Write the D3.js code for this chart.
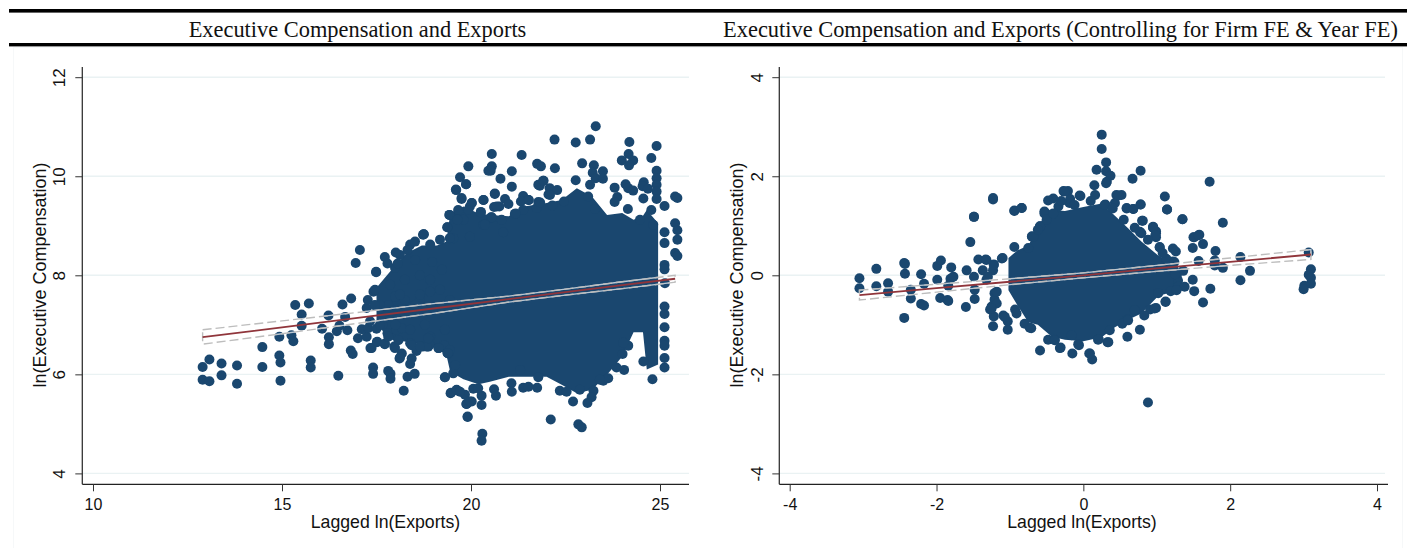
<!DOCTYPE html>
<html>
<head>
<meta charset="utf-8">
<script src="https://cdn.jsdelivr.net/npm/d3@7"></script>
<style>
  html, body { margin: 0; padding: 0; background: #fff; }
  svg { display: block; }
  .tick text, .axis-title { font-family: "Liberation Sans", Arial, sans-serif; fill: #111; }
  .head { font-family: "Liberation Serif", "Times New Roman", serif; font-size: 22.4px; fill: #111; }
</style>
</head>
<body>
<svg id="chart"></svg>
<script>
const width = 1407;
const height = 548;

const panel_titles = ["Executive Compensation and Exports", "Executive Compensation and Exports (Controlling for Firm FE & Year FE)"];
const x_title = "Lagged ln(Exports)";
const y_title = "ln(Executive Compensation)";

const left_x_ticks = [10, 15, 20, 25];
const left_y_ticks = [4, 6, 8, 10, 12];
const right_x_ticks = [-4, -2, 0, 2, 4];
const right_y_ticks = [-4, -2, 0, 2, 4];

// individually visible markers as [x, y]
const left_points = [
  [12.90,6.15],[13.08,6.30],[13.40,6.22],[13.81,6.18],[12.90,5.89],[13.08,5.86],[13.40,5.98],[13.81,5.81],[14.48,6.15],[14.48,6.55],
  [14.93,6.38],[14.96,6.24],[14.96,5.87],[14.93,6.76],[15.25,6.79],[15.30,6.67],[15.35,7.40],[15.71,7.43],[15.52,7.21],[15.52,6.98],
  [15.76,6.28],[15.76,6.14],[16.06,6.92],[16.23,7.19],[16.24,6.75],[16.24,6.61],[16.49,5.97],[16.45,6.87],[16.52,6.98],[16.67,7.16],
  [16.73,6.89],[16.60,7.41],[16.83,7.53],[16.82,6.48],[16.87,6.41],[17.01,6.73],[17.24,7.34],[17.46,7.39],[17.24,6.76],[17.11,6.91],
  [17.28,6.93],[17.50,6.92],[17.66,7.00],[17.34,6.53],[17.41,6.14],[17.41,6.01],[17.51,6.65],[17.72,6.62],[17.79,6.83],[17.81,6.07],
  [17.87,6.01],[17.87,5.91],[18.32,5.95],[18.51,6.01],[18.22,5.67],[18.11,6.32],[18.17,6.42],[17.97,6.56],[18.03,6.90],[18.17,6.93],
  [18.08,6.69],[18.39,6.63],[18.43,6.32],[18.39,6.21],[18.56,6.47],[18.72,6.56],[18.87,6.56],[18.92,6.76],[19.14,6.53],[19.31,5.94],
  [19.40,6.42],[19.46,5.62],[19.62,5.68],[19.88,5.40],[19.91,5.14],[19.53,6.02],[19.29,6.59],[17.68,7.37],[17.81,7.40],[17.99,7.57],
  [18.25,7.50],[18.65,7.50],[17.42,7.67],[18.92,7.67],[17.06,8.51],[16.95,8.25],[17.49,8.07],[17.99,8.15],[18.39,8.62],[18.73,8.82],
  [18.12,8.41],[17.72,8.37],[18.52,8.31],[18.92,8.62],[19.18,8.72],[18.97,8.27],[18.65,8.00],[18.25,7.91],[17.86,7.81],[17.46,7.71],
  [18.12,7.61],[18.65,7.61],[19.18,7.71],[19.23,8.11],[18.92,7.91],[18.52,7.40],[19.05,7.30],[19.44,7.50],[17.99,7.30],[17.59,7.40],
  [18.78,7.00],[19.31,6.90],[18.39,6.90],[18.00,7.00],[18.90,6.60],[19.44,6.49],[17.27,7.50],
  [23.30,11.01],[22.21,10.74],[22.77,10.68],[23.15,10.74],[24.19,10.69],[24.91,10.61],[20.55,10.45],[21.34,10.43],[24.17,10.45],[23.99,10.32],
  [24.29,10.32],[24.18,10.22],[24.77,10.37],[19.93,10.20],[20.55,10.20],[20.46,10.11],[20.52,10.11],[21.75,10.25],[21.85,10.20],[22.94,10.26],
  [23.25,10.22],[22.22,10.16],[23.22,10.07],[23.49,10.10],[21.08,10.10],[19.71,9.98],[20.78,9.95],[24.91,10.11],[24.91,9.96],[24.91,9.83],
  [24.91,9.69],[24.91,9.54],[23.30,9.96],[23.49,9.95],[22.77,9.92],[23.15,9.83],[19.87,9.84],[21.08,9.79],[21.92,9.91],[21.82,9.81],
  [22.08,9.76],[22.28,9.72],[22.05,9.63],[19.61,9.72],[20.63,9.65],[23.80,9.77],[24.09,9.84],[24.16,9.76],[24.29,9.71],[24.57,9.88],
  [24.54,9.80],[24.68,9.75],[24.56,9.55],[23.87,9.58],[23.80,9.48],[25.40,9.59],[25.46,9.56],[25.12,9.40],[24.15,9.34],[24.77,9.32],
  [19.75,9.56],[20.33,9.52],[20.90,9.54],[20.99,9.44],[20.02,9.46],[21.38,9.60],[21.52,9.52],[21.32,9.49],[21.78,9.48],[22.15,9.41],
  [22.46,9.49],[23.10,9.59],[23.28,9.34],[20.61,9.38],[20.75,9.39],[20.26,9.28],[19.43,9.22],[19.66,9.32],[19.97,9.39],[21.16,9.24],
  [21.38,9.32],[21.74,9.36],[20.53,9.17],[20.81,9.12],[19.80,9.12],[19.38,8.97],[19.53,8.75],[18.75,8.83],[20.85,8.87],[20.33,9.02],
  [25.40,9.05],[25.12,8.87],[25.46,8.91],[25.46,8.72],[25.12,8.65],[25.40,8.45],[25.46,8.39],[25.12,8.21],[25.12,8.12],[25.13,7.84],
  [24.47,9.12],[24.82,9.02],
  [25.12,7.37],[25.12,7.22],[25.12,6.95],[25.12,6.68],[25.12,6.58],[25.12,6.33],[25.12,6.14],[24.80,5.90],[24.56,6.26],[24.05,6.09],
  [23.85,6.14],[24.01,6.41],[24.16,6.58],[24.03,6.64],[23.50,5.87],[23.63,5.92],[23.24,5.67],[23.19,5.54],[23.08,5.42],[22.70,5.45],
  [22.35,5.67],[22.11,5.09],[22.84,4.99],[22.93,4.93],[21.75,5.73],[21.38,5.73],[21.52,5.75],[21.07,5.82],[21.08,5.65],[20.61,5.70],
  [20.66,5.57],[20.28,5.38],[20.28,5.57],[20.06,5.71],[19.88,5.40],[20.02,5.45],[19.91,5.15],[20.30,4.80],[20.28,4.66],[19.47,5.63],
  [19.31,5.94],[19.84,5.59],[19.14,6.53],[18.83,6.56],[19.38,6.43],[18.87,6.73],[19.62,5.69],[21.30,6.09],[21.78,5.94],[22.88,5.69],
  [22.53,5.65],[23.41,5.89],
  [17.49,8.06],[17.79,8.24],[18.01,8.46],[18.06,8.24],[18.52,8.68],[18.75,8.83],[18.32,8.51],[19.37,8.97],[19.43,9.22],[19.87,9.84],
  [19.60,9.73],[19.75,9.54],[20.02,9.46],[20.33,9.52],[20.63,9.64],[20.68,9.39],[20.26,9.27],[19.93,9.32],[19.64,9.12],[19.44,8.75],
  [20.55,9.17],[20.37,9.02],[19.97,8.78],[21.18,9.25],[21.53,9.52],[21.83,9.47],[21.78,9.83],[21.91,9.91],[22.09,9.62],
  [17.37,6.53],[17.52,6.66],[17.72,6.61],[17.99,6.53],[18.12,6.34],[18.43,6.59],[18.65,6.56],[19.38,6.43],[17.81,6.76],[17.46,7.40],
  [17.33,7.07],[17.59,7.00],[19.58,6.19],[19.71,5.65],[19.97,5.45],[20.19,5.72]
];

const right_points = [
  [-3.05,-0.06],[-3.05,-0.26],[-2.82,0.13],[-2.82,-0.22],[-2.66,-0.16],[-2.66,-0.33],[-2.44,0.25],[-2.43,0.23],[-2.43,0.03],[-2.44,-0.86],
  [-2.35,-0.29],[-2.35,-0.47],[-2.21,0.02],[-2.17,-0.17],[-2.21,-0.58],[-2.17,-0.61],[-1.99,-0.09],[-1.99,0.19],[-1.94,0.30],[-1.95,-0.46],
  [-1.84,-0.21],[-1.85,-0.50],[-1.84,-0.52],[-1.80,0.16],[-1.81,-0.07],[-1.77,-0.03],[-1.60,-0.64],[-1.54,0.67],[-1.49,1.18],[-1.59,0.10],
  [-1.49,-0.03],[-1.48,-0.29],[-1.48,-0.48],[-1.43,0.32],[-1.33,0.32],[-1.37,0.10],[-1.32,-0.09],[-1.22,0.22],[-1.23,0.10],[-1.10,0.35],
  [-1.21,-0.36],[-1.21,-0.49],[-1.25,-0.63],[-1.27,-0.69],[-1.22,-0.83],[-1.23,-1.03],[-1.09,-0.81],[-1.03,-0.93],[-1.03,-1.10],[-0.93,-0.69],
  [-0.80,-0.98],[-0.73,-1.06],[-0.59,-1.52],[-0.94,1.31],[-0.84,1.36],[-1.23,1.53],[-0.94,0.57],[-0.75,0.55],[-0.70,0.78],[-0.59,0.99],
  [-0.50,1.23],[-0.48,-1.30],
  [3.07,0.46],[3.10,0.12],[3.07,0.01],[3.10,-0.05],[3.10,-0.17],[3.01,-0.21],[3.00,-0.28],[1.90,1.06],[1.35,1.13],[1.14,1.33],
  [0.78,1.43],[0.59,1.36],[0.68,1.34],[-0.19,1.46],[1.51,0.77],[1.58,0.82],[1.63,0.63],[1.49,0.55],[1.80,0.49],[2.14,0.37],
  [1.57,0.29],[1.79,0.30],[1.79,0.20],[1.90,0.15],[2.27,0.09],[2.14,-0.10],[1.49,-0.09],[1.73,-0.27],[1.51,-0.32],[1.63,-0.55],
  [1.12,-0.53],[1.22,0.54],[1.26,0.48],[0.95,0.98],[0.99,0.89],[0.99,0.77],[0.80,1.10],[0.77,0.88],[1.04,0.57],[1.13,0.33],
  [1.22,0.28],[1.36,0.09],[1.29,-0.11],[1.29,-0.23],[1.19,-0.32],[1.02,-0.36],[0.99,-0.66],[0.91,-0.69],[0.83,-0.81],[0.60,-0.90],
  [0.53,-0.98],[0.36,-1.11],[0.77,-1.10],[0.60,-1.24],[0.33,-1.35],[0.21,-1.29],[-0.07,-1.39],[-0.15,-1.58],[0.08,-1.58],[0.12,-1.70],
  [-0.32,-1.47],[-0.39,-1.30],[-0.16,-1.21],
  [0.25,2.84],[0.25,2.55],[0.31,2.28],[0.18,2.13],[0.31,2.10],[0.37,2.01],[0.78,2.11],[0.67,1.95],[1.72,1.89],[0.32,1.89],
  [0.15,1.82],[-1.23,1.56],[-1.49,1.18],[-0.94,1.30],[-0.84,1.36],[-0.27,1.70],[-0.21,1.70],[-0.18,1.54],[-0.41,1.55],[-0.48,1.51],
  [1.11,1.59],[1.14,1.33],[1.35,1.13],[-0.05,1.61],[0.45,1.62],[0.52,1.62],[0.78,1.43],[0.59,1.35],[0.68,1.34],[0.43,1.46],
  [0.30,1.43],[-0.34,1.39],[-0.53,1.29],[-0.59,0.99],[-0.70,0.79],[0.81,1.10],[0.95,0.97],[0.99,0.85],[1.50,0.77],[1.57,0.81],
  [0.88,-2.57],
  [-0.26,1.69],[-0.04,1.60],[-0.53,1.25],[-0.50,1.12],[-0.68,0.78],[-1.11,0.34],[-1.22,0.21],[-1.32,0.31],[-1.30,-0.03],[-1.18,-0.33],
  [-1.18,-0.57],[-1.25,-0.67],[-1.07,-0.84],[-0.91,-0.77],[-0.71,-1.07],[-0.39,-1.31],[-0.31,-1.46],[-0.06,-1.41],[-0.41,1.25],
  [0.48,1.61],[0.29,1.42],[0.79,0.85],[0.95,0.96],[0.98,0.81],[1.04,0.56],[1.13,0.33],[1.24,0.27],[1.38,-0.23],[1.27,-0.30],
  [1.12,-0.54],[0.97,-0.67],[0.70,-0.70],[0.61,-0.91],[0.34,-1.35],[0.20,-1.30],[0.09,-1.58],[0.31,1.86],
  [0.40,1.35],[0.55,1.12],[0.70,0.96],[0.88,0.72],[1.08,0.45],[-0.30,1.50],[-0.12,1.42],[0.10,1.50],[0.16,1.62],[-0.62,0.92],
  [1.20,0.12],[1.25,0.02]
];

// the overplotted middle of each cloud is solid, so it is kept as an outline: x, top, bottom
const left_core_x = [17.5, 17.9, 18.3, 18.7, 19.1, 19.35, 19.45, 19.8, 20.2, 20.5, 21.0, 21.4, 22.0, 22.4, 22.8, 23.2, 23.6, 24.0, 24.3, 24.55, 24.65, 24.95];
const left_core_hi = [7.75, 8.11, 8.45, 8.6, 8.6, 8.68, 9.25, 9.39, 9.25, 9.22, 9.19, 9.39, 9.46, 9.52, 9.76, 9.59, 9.22, 9.26, 9.12, 9.2, 9.32, 9.05];
const left_core_lo = [7.0, 6.7, 6.66, 6.6, 6.52, 6.39, 6.05, 5.9, 5.8, 5.85, 5.95, 5.95, 5.95, 5.79, 5.62, 5.69, 5.99, 6.36, 6.85, 6.85, 6.1, 6.2];

const right_core_x = [-1.02, -0.9, -0.75, -0.62, -0.5, -0.43, -0.25, 0.0, 0.25, 0.43, 0.61, 0.79, 1.02, 1.29, 1.34];
const right_core_hi = [0.35, 0.5, 0.6, 0.95, 1.3, 1.32, 1.3, 1.38, 1.45, 1.2, 0.95, 0.68, 0.4, 0.17, 0.0];
const right_core_lo = [-0.3, -0.6, -0.95, -1.0, -1.15, -1.24, -1.3, -1.33, -1.25, -1.05, -0.9, -0.77, -0.42, -0.3, -0.16];

// fitted line and its confidence band
const left_fit_x = [12.9, 15, 17, 19, 21, 22.5, 24, 25.4];
const left_fit_y = [6.75, 6.95, 7.14, 7.33, 7.52, 7.66, 7.8, 7.93];
const left_fit_hi = [6.9, 7.08, 7.25, 7.43, 7.58, 7.72, 7.87, 8.0];
const left_fit_lo = [6.61, 6.82, 7.03, 7.23, 7.46, 7.6, 7.73, 7.86];

const right_fit_x = [-3.05, -2, -1, 0, 1, 2, 3.1];
const right_fit_y = [-0.4, -0.26, -0.13, 0.0, 0.14, 0.27, 0.42];
const right_fit_hi = [-0.3, -0.18, -0.07, 0.05, 0.2, 0.35, 0.52];
const right_fit_lo = [-0.5, -0.34, -0.19, -0.05, 0.08, 0.2, 0.32];

const navy = "#1a476f";
const red = "#90353b";
const grid_color = "#eaf2f3";

const svg = d3.select("#chart").attr("width", width).attr("height", height);

// faint edge of the pasted figure, then the rules and headers
svg.append("rect").attr("x", 13.5).attr("y", 47.5).attr("width", 1389).attr("height", 510).attr("fill", "none").attr("stroke", "#f6f8f9");
svg.append("rect").attr("x", 9).attr("y", 9).attr("width", width - 9).attr("height", 3.6).attr("fill", "#000");
svg.append("rect").attr("x", 9).attr("y", 43).attr("width", width - 9).attr("height", 3.4).attr("fill", "#000");
svg.append("text").attr("class", "head").attr("x", 357.5).attr("y", 37).attr("text-anchor", "middle").text(panel_titles[0]);
svg.append("text").attr("class", "head").attr("x", 1060.5).attr("y", 37).attr("text-anchor", "middle").text(panel_titles[1]);

function drawPanel(o) {
  const x_scale = d3.scaleLinear().domain(o.x_domain).range(o.x_range);
  const y_scale = d3.scaleLinear().domain(o.y_domain).range([473.4, 77.2]);

  const g = svg.append("g");

  // grid
  g.selectAll("line.grid")
    .data(o.y_ticks)
    .join("line")
    .attr("class", "grid")
    .attr("x1", o.left)
    .attr("x2", o.grid_end)
    .attr("y1", (d) => y_scale(d))
    .attr("y2", (d) => y_scale(d))
    .attr("stroke", grid_color)
    .attr("stroke-width", 1.4);

  // solid core of the cloud
  const core = o.core_x.map((x, i) => ({ x, hi: o.core_hi[i], lo: o.core_lo[i] }));
  g.append("path")
    .datum(core)
    .attr("fill", navy)
    .attr("d", d3.area().x((d) => x_scale(d.x)).y0((d) => y_scale(d.lo)).y1((d) => y_scale(d.hi)));

  g.selectAll("circle")
    .data(o.points)
    .join("circle")
    .attr("cx", (d) => x_scale(d[0]))
    .attr("cy", (d) => y_scale(d[1]))
    .attr("r", 5)
    .attr("fill", navy);

  // confidence band and fit
  const fit = o.fit_x.map((x, i) => ({ x, y: o.fit_y[i], hi: o.fit_hi[i], lo: o.fit_lo[i] }));
  const band = fit.map((d) => [x_scale(d.x), y_scale(d.hi)]).concat(fit.slice().reverse().map((d) => [x_scale(d.x), y_scale(d.lo)]));
  const bandLine = d3.line().curve(d3.curveLinearClosed);
  g.append("path").attr("d", bandLine(band)).attr("fill", "none").attr("stroke", "#fff").attr("stroke-opacity", 0.7).attr("stroke-width", 1.3);
  g.append("path").attr("d", bandLine(band)).attr("fill", "none").attr("stroke", "#bdbdbd").attr("stroke-width", 1.4).attr("stroke-dasharray", "9 4");
  g.append("path")
    .datum(fit)
    .attr("fill", "none")
    .attr("stroke", red)
    .attr("stroke-width", 1.8)
    .attr("d", d3.line().x((d) => x_scale(d.x)).y((d) => y_scale(d.y)));

  // axes
  const yAxis = d3.axisLeft(y_scale).tickValues(o.y_ticks).tickSize(7).tickSizeOuter(0).tickFormat((d) => String(d));
  const xAxis = d3.axisBottom(x_scale).tickValues(o.x_ticks).tickSize(7).tickSizeOuter(0).tickFormat((d) => String(d));

  const ya = g.append("g").attr("transform", `translate(${o.left},0)`).call(yAxis);
  ya.select(".domain").attr("d", `M0,67V484.3`).attr("stroke", "#333").attr("stroke-width", 1.3);
  ya.selectAll(".tick line").attr("stroke", "#333").attr("stroke-width", 1);
  ya.selectAll(".tick text")
    .attr("font-size", 17)
    .attr("text-anchor", "middle")
    .attr("x", 0)
    .attr("y", 0)
    .attr("dy", 0)
    .attr("transform", `translate(${o.y_label_x - o.left},0) rotate(-90)`);

  const xa = g.append("g").attr("transform", "translate(0,484.3)").call(xAxis);
  xa.select(".domain").attr("d", `M${o.left},0H${o.axis_end}`).attr("stroke", "#222").attr("stroke-width", 1.3);
  xa.selectAll(".tick line").attr("stroke", "#333").attr("stroke-width", 1);
  xa.selectAll(".tick text").attr("font-size", 16).attr("y", 14).attr("dy", "0.71em");

  g.append("text")
    .attr("class", "axis-title")
    .attr("x", o.x_title_x)
    .attr("y", 528)
    .attr("text-anchor", "middle")
    .attr("font-size", 17.7)
    .text(x_title);

  g.append("text")
    .attr("class", "axis-title")
    .attr("text-anchor", "middle")
    .attr("font-size", 18)
    .attr("transform", `translate(${o.y_title_x},${o.y_title_y}) rotate(-90)`)
    .text(y_title);
}

drawPanel({
  left: 82.3, axis_end: 689, grid_end: 689,
  x_domain: [10, 25], x_range: [93, 660],
  y_domain: [4, 12],
  x_ticks: left_x_ticks, y_ticks: left_y_ticks,
  points: left_points,
  core_x: left_core_x, core_hi: left_core_hi, core_lo: left_core_lo,
  fit_x: left_fit_x, fit_y: left_fit_y, fit_hi: left_fit_hi, fit_lo: left_fit_lo,
  y_label_x: 65, x_title_x: 385.5, y_title_x: 46, y_title_y: 275
});

drawPanel({
  left: 779.3, axis_end: 1388, grid_end: 1385,
  x_domain: [-4, 4], x_range: [789.7, 1377],
  y_domain: [-4, 4],
  x_ticks: right_x_ticks, y_ticks: right_y_ticks,
  points: right_points,
  core_x: right_core_x, core_hi: right_core_hi, core_lo: right_core_lo,
  fit_x: right_fit_x, fit_y: right_fit_y, fit_hi: right_fit_hi, fit_lo: right_fit_lo,
  y_label_x: 763, x_title_x: 1082, y_title_x: 743, y_title_y: 275
});
</script>
</body>
</html>
